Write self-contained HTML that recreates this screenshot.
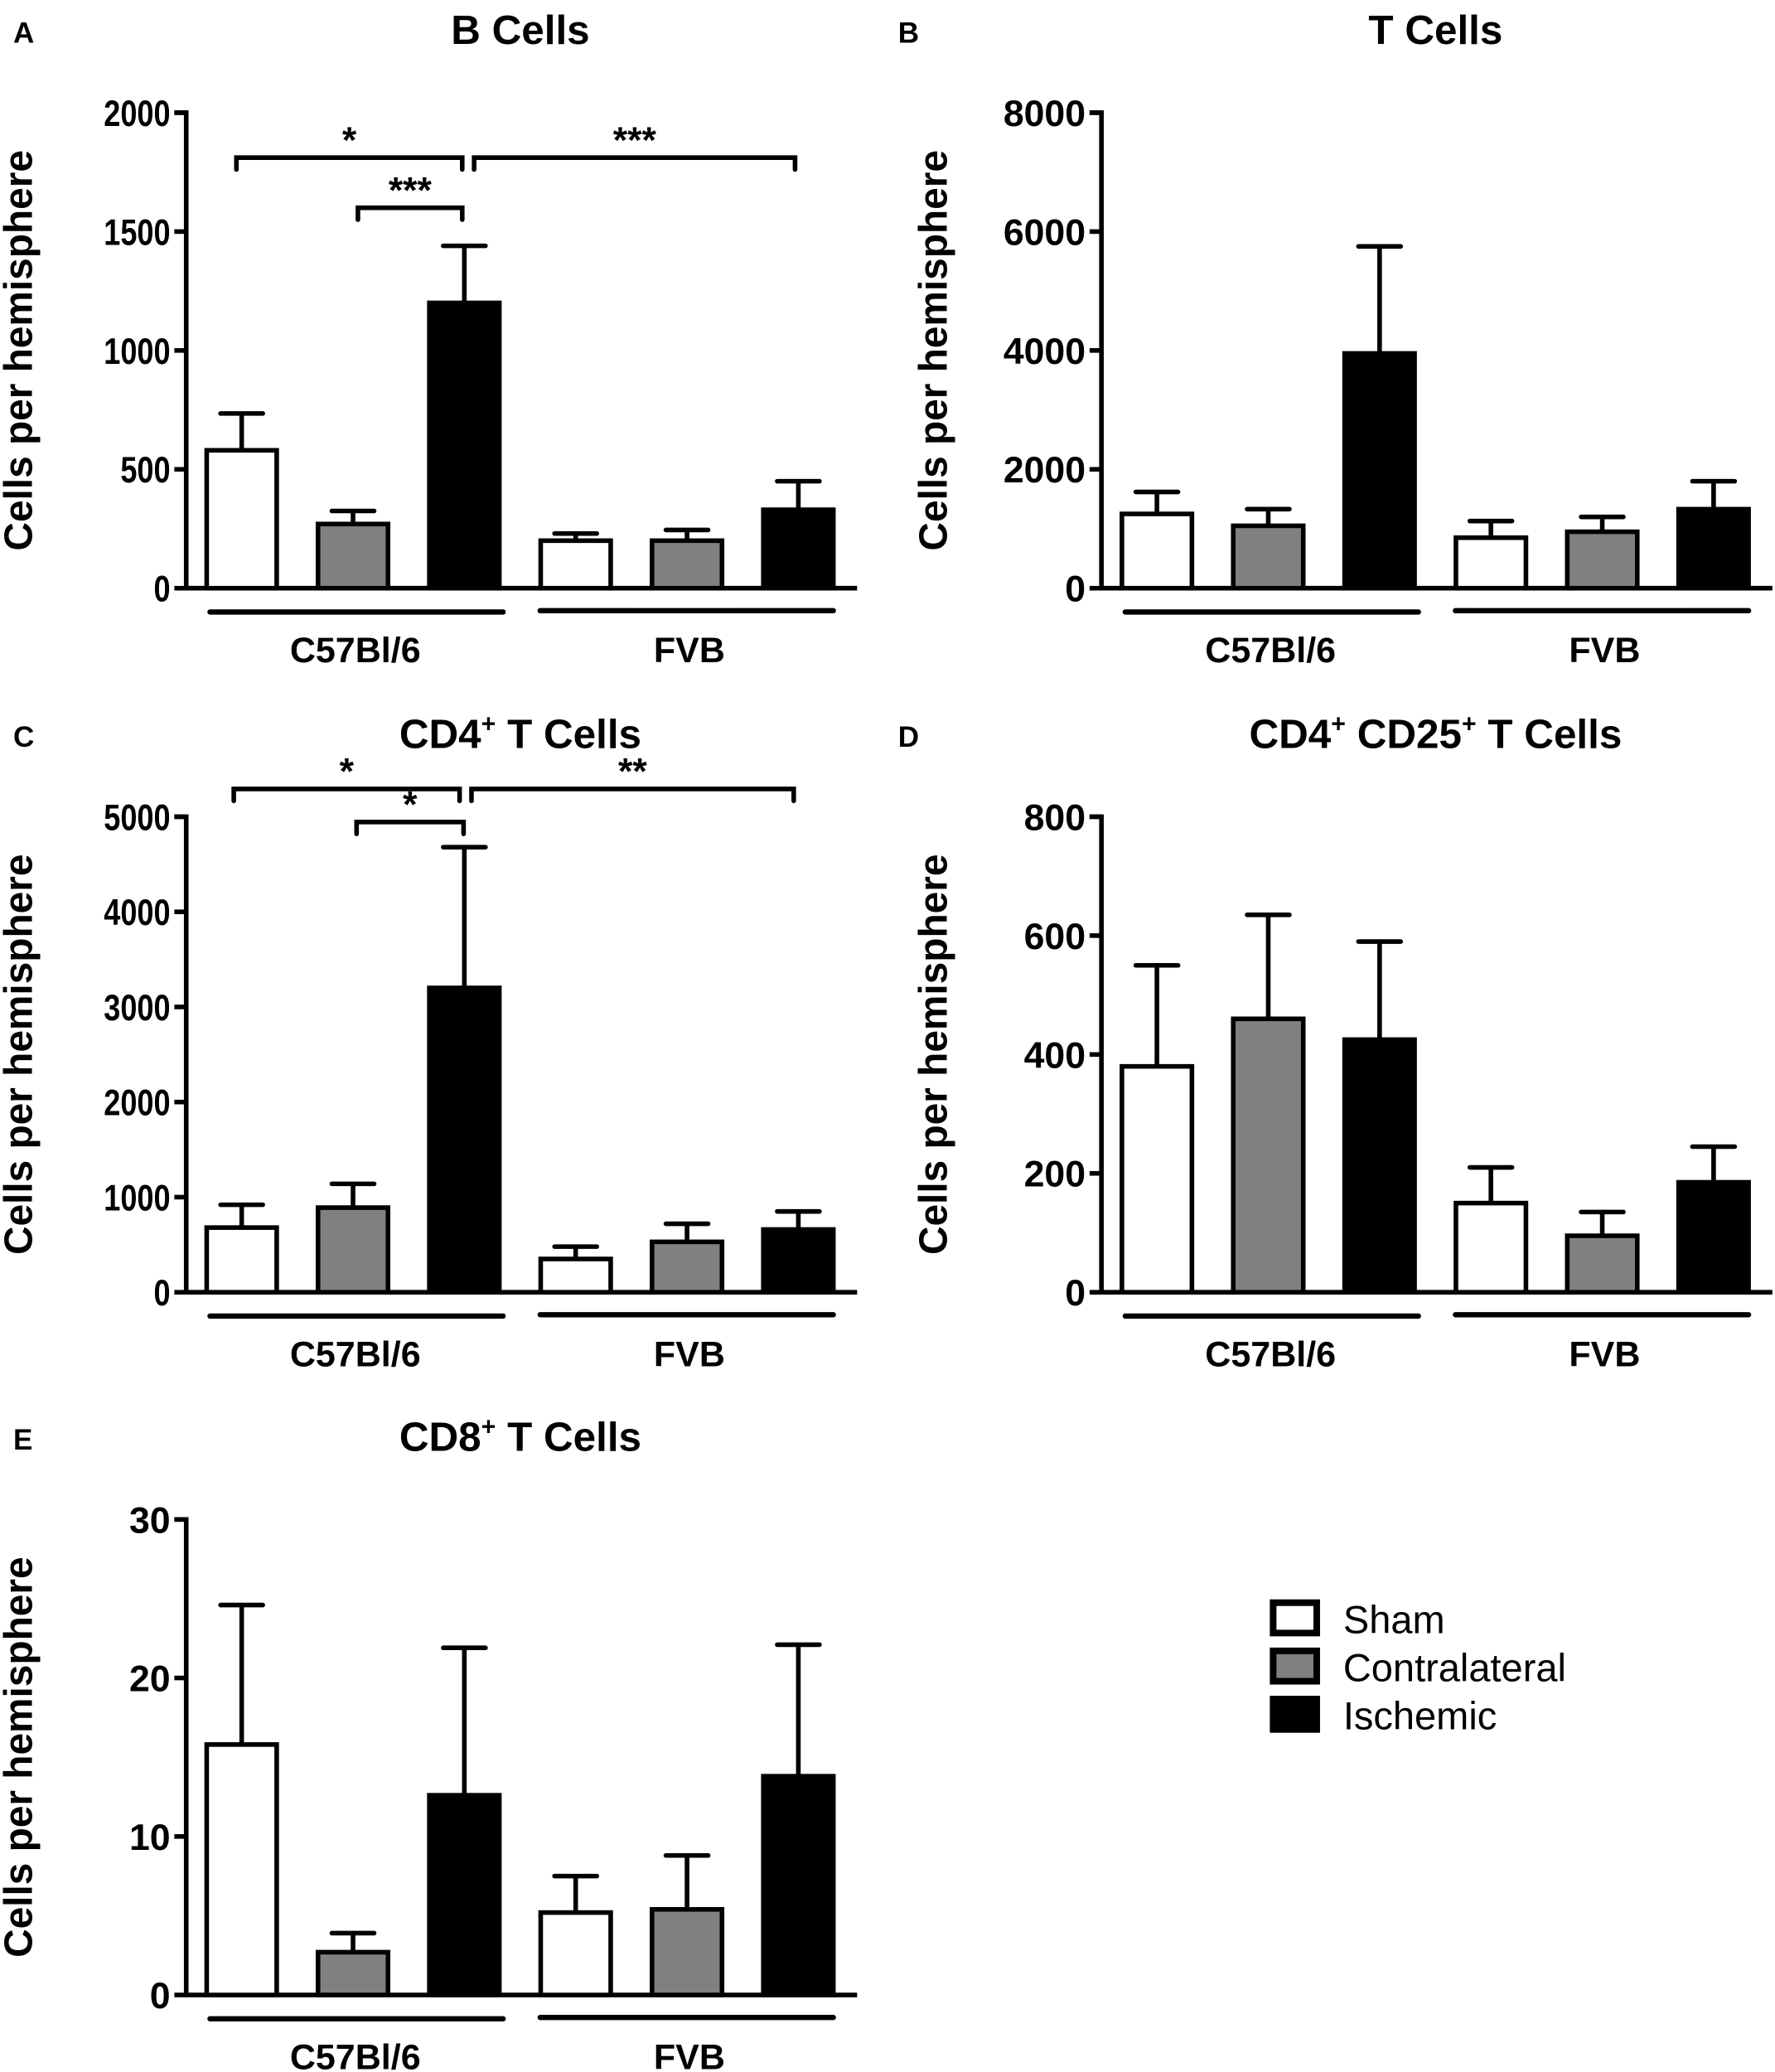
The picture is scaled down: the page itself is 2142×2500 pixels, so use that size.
<!DOCTYPE html>
<html><head><meta charset="utf-8"><style>
html,body{margin:0;padding:0;background:#fff;}
svg{display:block;}
text{font-family:"Liberation Sans",Arial,sans-serif;fill:#000;}
</style></head><body>
<svg id="fig" width="2142" height="2500" viewBox="0 0 1344 1568" xmlns="http://www.w3.org/2000/svg"></svg>
<script>
const groups = ["C57Bl/6","FVB"];
const seriesNames = ["Sham","Contralateral","Ischemic"];
const fills = ["#fff","#808080","#000"];
// panel A: B cells
const aMeans = [580,270,1200,200,200,330];
const aErrs  = [155,55,240,30,45,120];
const aTicks = [0,500,1000,1500,2000];
// panel B: T cells
const bMeans = [1250,1050,3950,850,950,1330];
const bErrs  = [370,280,1800,280,250,470];
const bTicks = [0,2000,4000,6000,8000];
// panel C: CD4+ T cells
const cMeans = [680,890,3200,350,530,660];
const cErrs  = [240,250,1480,130,190,190];
const cTicks = [0,1000,2000,3000,4000,5000];
// panel D: CD4+ CD25+
const dMeans = [380,460,425,150,95,185];
const dErrs  = [170,175,165,60,40,60];
const dTicks = [0,200,400,600,800];
// panel E: CD8+
const eMeans = [15.8,2.7,12.6,5.2,5.4,13.8];
const eErrs  = [8.8,1.2,9.3,2.3,3.4,8.3];
const eTicks = [0,10,20,30];

const NS="http://www.w3.org/2000/svg";
const svg=document.getElementById('fig');
function mk(tag,attrs,parent,text){const e=document.createElementNS(NS,tag);for(const k in attrs)e.setAttribute(k,attrs[k]);if(text!==undefined)e.textContent=text;(parent||svg).appendChild(e);return e;}

function panel(id,letter,lx,title,ax,y0,means,errs,ticks,narrow,brackets){
  const g=mk('g',{});
  
  
  const yTop=y0-360, max=ticks[ticks.length-1];
  const y=v=>y0-(v/max)*360;
  const L=mk('text',{x:lx,y:y0-413,'font-size':22,'font-weight':'bold'},g,letter);
  
  
  const T=mk('text',{x:ax+253,y:y0-412,'font-size':31,'font-weight':'bold','text-anchor':'middle'},g);
  
  
  title.forEach(p=>{mk('tspan',p.sup?{'font-size':19,dy:-12}:(p.down?{'font-size':31,dy:12}:{}),T,p.t);});
  const yt=mk('text',{transform:`translate(${ax-117},${y0-180}) rotate(-90)`,'font-size':30,'font-weight':'bold','text-anchor':'middle'},g,'Cells per hemisphere');
  
  
  const axis=mk('path',{d:`M${ax-9} ${yTop}H${ax}V${y0}H${ax+508}`,stroke:'#000','stroke-width':3.5,fill:'none'},g);
  
  
  ticks.forEach(t=>{
    mk('line',{x1:ax-9,x2:ax,y1:y(t),y2:y(t),stroke:'#000','stroke-width':3.5},g);
    const s=String(t);
    const at={x:ax-12,y:y(t)+10,'font-size':28,'font-weight':'bold','text-anchor':'end'};
    if(narrow){at.textLength=s.length*12.6;at.lengthAdjust='spacingAndGlyphs';}
    const tl=mk('text',at,g,s);
    
    
  });
  means.forEach((m,i)=>{
    const bx=ax+14+i*84.3, w=56, cx=bx+w/2;
    const top=y(m), et=y(m+errs[i]);
    const el=mk('path',{d:`M${cx} ${top}V${et}M${cx-16} ${et}H${cx+16}`,stroke:'#000','stroke-width':3.5,'stroke-linecap':'round',fill:'none'},g);
    
    
    const r=mk('rect',{x:bx+1.5,y:top,width:w-3,height:y0-top,fill:fills[i%3],stroke:'#000','stroke-width':3.5},g);
    
    
  });
  groups.forEach((gn,k)=>{
    const x1=ax+18+k*250, x2=x1+222;
    const gl=mk('line',{x1:x1,x2:x2,y1:y0+18+(k?-1:0),y2:y0+18+(k?-1:0),stroke:'#000','stroke-width':4,'stroke-linecap':'round'},g);
    
    
    const lab=mk('text',{x:(x1+x2)/2+(k?2:-1),y:y0+56,'font-size':27,'font-weight':'bold','text-anchor':'middle'},g,gn);
    
    
  });
  (brackets||[]).forEach(b=>{
    const br=mk('path',{d:`M${b[0]} ${b[2]+9}V${b[2]}H${b[1]}V${b[2]+9}`,stroke:'#000','stroke-width':3.5,'stroke-linecap':'round',fill:'none'},g);
    
    
    const st=mk('text',{x:(b[0]+b[1])/2,y:b[2]-4,'font-size':28,'font-weight':'bold','text-anchor':'middle'},g,b[3]);
    
    
  });
}
panel('a','A',10,[{t:'B Cells'}],141,445,aMeans,aErrs,aTicks,true,[[179,350,119,'*'],[271,350,157,'***'],[359,602,119,'***']]);
panel('b','B',680,[{t:'T Cells'}],834,445,bMeans,bErrs,bTicks,false);
panel('c','C',10,[{t:'CD4'},{t:'+',sup:1},{t:' T Cells',down:1}],141,978,cMeans,cErrs,cTicks,true,[[177,348,597,'*'],[270,351,622,'*'],[357,601,597,'**']]);
panel('d','D',680,[{t:'CD4'},{t:'+',sup:1},{t:' CD25',down:1},{t:'+',sup:1},{t:' T Cells',down:1}],834,978,dMeans,dErrs,dTicks,false);
panel('e','E',10,[{t:'CD8'},{t:'+',sup:1},{t:' T Cells',down:1}],141,1510,eMeans,eErrs,eTicks,false);

const lg=mk('g',{});


seriesNames.forEach((s,i)=>{
  const yy=1211+i*36.5;
  const r=mk('rect',{x:964,y:yy+2,width:33,height:23,fill:fills[i],stroke:'#000','stroke-width':5},lg);
  
  
  const t=mk('text',{x:1017,y:yy+25,'font-size':29.5},lg,s);
  
  
});
</script>
</body></html>
